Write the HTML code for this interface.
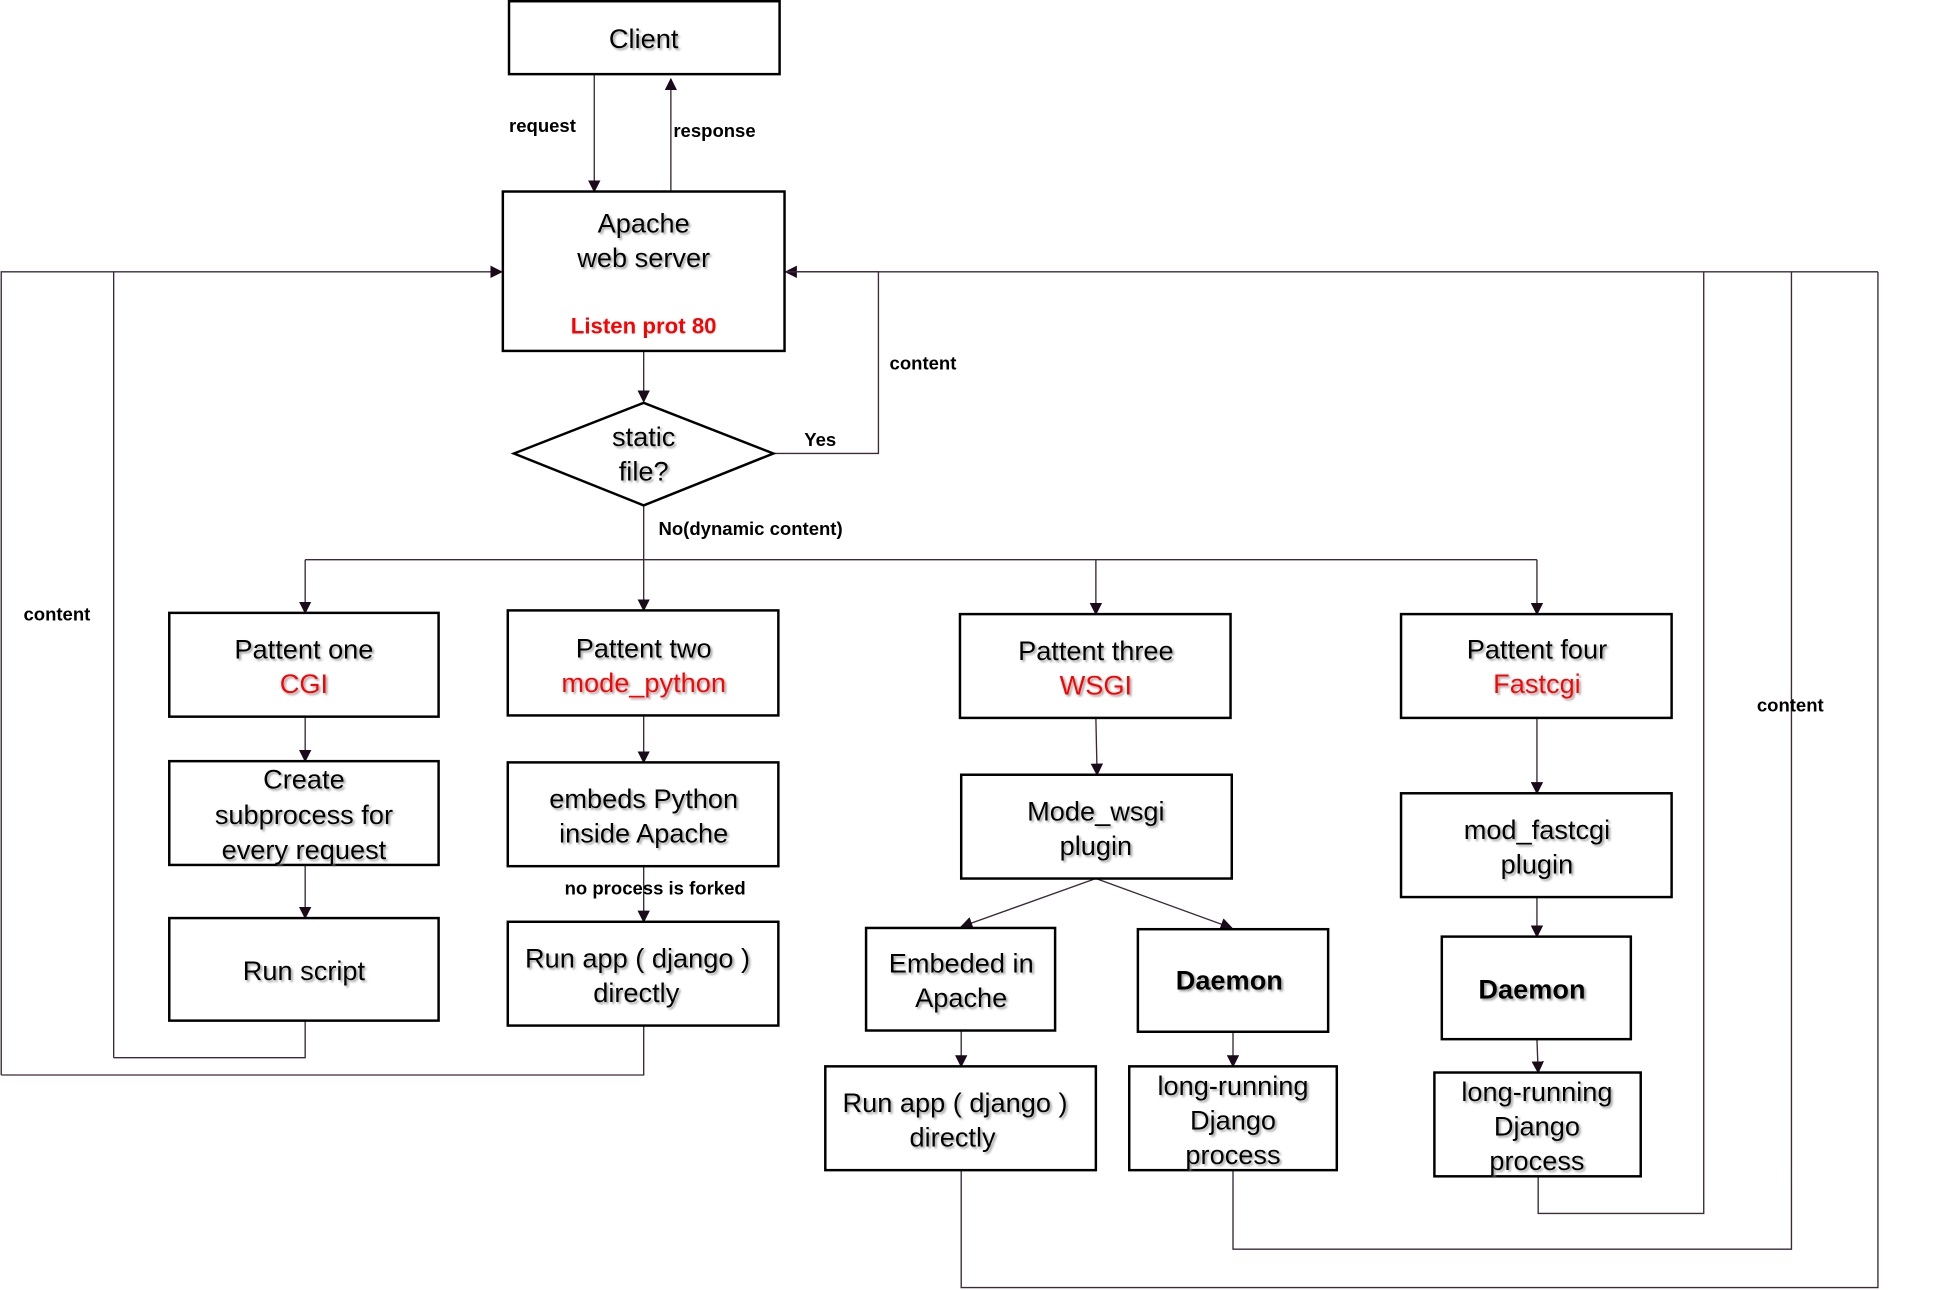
<!DOCTYPE html>
<html><head><meta charset="utf-8"><style>
html,body{margin:0;padding:0;background:#fff;}
svg{display:block;}
text{font-family:"Liberation Sans",Arial,sans-serif;}
.b{fill:#fff;stroke:#000;stroke-width:2;}
.l{fill:none;stroke:#3a2a3a;stroke-width:1.1;}
.t{font-size:22px;text-anchor:middle;fill:#000;filter:url(#sh);}
.r{fill:#f00;}
.s{font-size:15px;font-weight:bold;fill:#000;}
.d{font-weight:bold;}
</style></head><body>
<svg width="1936" height="1290" viewBox="0 0 1567 1044" preserveAspectRatio="none" xmlns="http://www.w3.org/2000/svg">
<defs>
<marker id="a" markerWidth="10" markerHeight="10" refX="9" refY="5" orient="auto" markerUnits="userSpaceOnUse"><path d="M0,0 L10,5 L0,10 z" fill="#1a0a1a"/></marker>
<filter id="sh" x="-10%" y="-20%" width="130%" height="150%"><feDropShadow dx="1.5" dy="1.5" stdDeviation="0.8" flood-color="#888" flood-opacity="0.8"/></filter>
</defs>
<path class="l" d="M481,60 V155" marker-end="url(#a)"/>
<path class="l" d="M543,155 V64" marker-end="url(#a)"/>
<path class="l" d="M521,284 V325" marker-end="url(#a)"/>
<path class="l" d="M626,367 H711 V220 H636" marker-end="url(#a)"/>
<path class="l" d="M1520,220 H636"/>
<path class="l" d="M1,870 V220 H406" marker-end="url(#a)"/>
<path class="l" d="M92,856 V220"/>
<path class="l" d="M247,826 V856 H92"/>
<path class="l" d="M521,830 V870 H1"/>
<path class="l" d="M521,409 V494" marker-end="url(#a)"/>
<path class="l" d="M247,453 H1244"/>
<path class="l" d="M247,453 V496" marker-end="url(#a)"/>
<path class="l" d="M887,453 V497" marker-end="url(#a)"/>
<path class="l" d="M1244,453 V497" marker-end="url(#a)"/>
<path class="l" d="M247,580 V616" marker-end="url(#a)"/>
<path class="l" d="M247,700 V743" marker-end="url(#a)"/>
<path class="l" d="M521,579 V617" marker-end="url(#a)"/>
<path class="l" d="M521,701 V746" marker-end="url(#a)"/>
<path class="l" d="M887,581 L888,627" marker-end="url(#a)"/>
<path class="l" d="M1244,581 V642" marker-end="url(#a)"/>
<path class="l" d="M1244,726 V758" marker-end="url(#a)"/>
<path class="l" d="M887,711 L778,750" marker-end="url(#a)"/>
<path class="l" d="M887,711 L997,751" marker-end="url(#a)"/>
<path class="l" d="M778,834 V863" marker-end="url(#a)"/>
<path class="l" d="M998,835 V863" marker-end="url(#a)"/>
<path class="l" d="M1244,841 L1245,868" marker-end="url(#a)"/>
<path class="l" d="M1245,952 V982 H1379 V220"/>
<path class="l" d="M998,947 V1011 H1450 V220"/>
<path class="l" d="M778,947 V1042 H1520 V220"/>
<rect class="b" x="412" y="1" width="219" height="59"/>
<rect class="b" x="407" y="155" width="228" height="129"/>
<polygon class="b" points="416,367 521,326 626,367 521,409"/>
<rect class="b" x="137" y="496" width="218" height="84"/>
<rect class="b" x="411" y="494" width="219" height="85"/>
<rect class="b" x="777" y="497" width="219" height="84"/>
<rect class="b" x="1134" y="497" width="219" height="84"/>
<rect class="b" x="137" y="616" width="218" height="84"/>
<rect class="b" x="411" y="617" width="219" height="84"/>
<rect class="b" x="778" y="627" width="219" height="84"/>
<rect class="b" x="1134" y="642" width="219" height="84"/>
<rect class="b" x="137" y="743" width="218" height="83"/>
<rect class="b" x="411" y="746" width="219" height="84"/>
<rect class="b" x="701" y="751" width="153" height="83"/>
<rect class="b" x="921" y="752" width="154" height="83"/>
<rect class="b" x="1167" y="758" width="153" height="83"/>
<rect class="b" x="668" y="863" width="219" height="84"/>
<rect class="b" x="914" y="863" width="168" height="84"/>
<rect class="b" x="1161" y="868" width="167" height="84"/>
<text class="t" x="521" y="39">Client</text>
<text class="t" x="521" y="188">Apache</text>
<text class="t" x="521" y="216">web server</text>
<text x="521" y="270" style="font-size:18px;font-weight:bold;text-anchor:middle;fill:#f00;">Listen prot 80</text>
<text class="t" x="521" y="361">static</text>
<text class="t" x="521" y="389">file?</text>
<text class="t" x="246" y="533">Pattent one</text>
<text class="t r" x="246" y="561">CGI</text>
<text class="t" x="521" y="532">Pattent two</text>
<text class="t r" x="521" y="560">mode_python</text>
<text class="t" x="887" y="534">Pattent three</text>
<text class="t r" x="887" y="562">WSGI</text>
<text class="t" x="1244" y="533">Pattent four</text>
<text class="t r" x="1244" y="561">Fastcgi</text>
<text class="t" x="246" y="638">Create</text>
<text class="t" x="246" y="667">subprocess for</text>
<text class="t" x="246" y="695">every request</text>
<text class="t" x="521" y="654">embeds Python</text>
<text class="t" x="521" y="682">inside Apache</text>
<text class="t" x="887" y="664">Mode_wsgi</text>
<text class="t" x="887" y="692">plugin</text>
<text class="t" x="1244" y="679">mod_fastcgi</text>
<text class="t" x="1244" y="707">plugin</text>
<text class="t" x="246" y="793">Run script</text>
<text class="t" x="516" y="783">Run app ( django )</text>
<text class="t" x="515" y="811">directly</text>
<text class="t" x="778" y="787">Embeded in</text>
<text class="t" x="778" y="815">Apache</text>
<text class="t d" x="995" y="801">Daemon</text>
<text class="t d" x="1240" y="808">Daemon</text>
<text class="t" x="773" y="900">Run app ( django )</text>
<text class="t" x="771" y="928">directly</text>
<text class="t" x="998" y="886">long-running</text>
<text class="t" x="998" y="914">Django</text>
<text class="t" x="998" y="942">process</text>
<text class="t" x="1244" y="891">long-running</text>
<text class="t" x="1244" y="919">Django</text>
<text class="t" x="1244" y="947">process</text>
<text class="s" x="412" y="107">request</text>
<text class="s" x="545" y="111">response</text>
<text class="s" x="720" y="299">content</text>
<text class="s" x="651" y="361">Yes</text>
<text class="s" x="533" y="433">No(dynamic content)</text>
<text class="s" x="19" y="502">content</text>
<text class="s" x="457" y="724">no process is forked</text>
<text class="s" x="1422" y="576">content</text>
</svg>
</body></html>
